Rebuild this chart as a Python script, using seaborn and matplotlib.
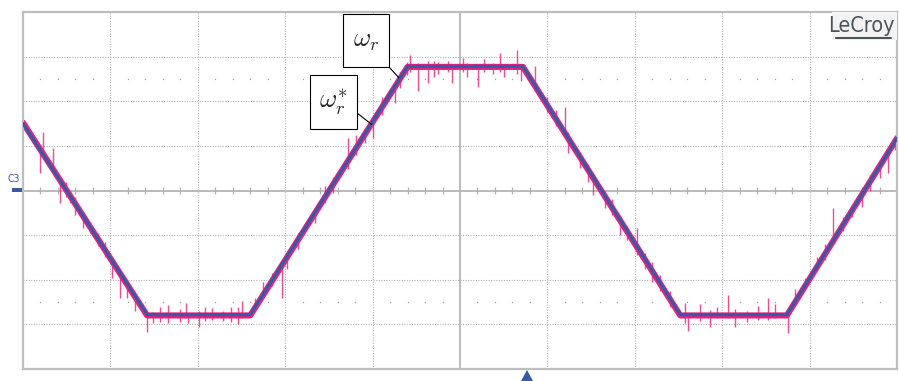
import numpy as np
import pandas as pd
import matplotlib
matplotlib.use("Agg")
import matplotlib.pyplot as plt
import seaborn as sns
from matplotlib.patches import Rectangle, Polygon
from matplotlib.lines import Line2D

# ---------------- data (oscilloscope divisions) ----------------
# reference speed  (omega_r^*), blue
ref_time = [0.0, 1.42, 2.60, 4.40, 5.72, 7.52, 8.74, 10.0]
ref_speed = [1.50, -2.78, -2.78, 2.78, 2.78, -2.78, -2.78, 1.17]

# measured speed (omega_r), pink – main trace
meas_time = [0.0, 1.42, 2.60, 4.40, 5.72, 7.52, 8.74, 10.0]
meas_speed = [1.52, -2.80, -2.80, 2.77, 2.77, -2.80, -2.80, 1.17]

spike_time = [0.19, 0.23, 0.34, 0.42, 0.49, 0.54, 0.60, 0.69, 0.77, 0.86, 0.94, 1.02, 1.11, 1.19, 1.28, 1.42,
              1.49, 1.57, 1.66, 1.80, 1.86, 1.89, 2.01, 2.08, 2.16, 2.29, 2.38, 2.46, 2.51,
              2.66, 2.75, 2.85, 2.96, 3.02, 3.15, 3.34, 3.46, 3.55, 3.72, 3.81, 3.91, 4.00, 4.11, 4.26, 4.31, 4.39,
              4.43, 4.52, 4.63, 4.70, 4.75, 4.86, 4.91, 5.03, 5.08, 5.21, 5.27, 5.38, 5.46, 5.50, 5.65, 5.70,
              5.86, 6.00, 6.10, 6.20, 6.24, 6.37, 6.46, 6.52, 6.66, 6.74, 6.83, 6.91, 7.03, 7.12, 7.20, 7.29, 7.40, 7.57,
              7.61, 7.75, 7.86, 7.94, 8.07, 8.15, 8.28, 8.41, 8.52, 8.60, 8.75,
              8.83, 8.95, 9.08, 9.18, 9.27, 9.38, 9.49, 9.60, 9.69, 9.81, 9.90, 9.98]
spike_low = [0.40, 0.80, 0.46, -0.27, -0.15, -0.29, -0.55, -0.85, -0.95, -1.25, -1.50, -1.95, -2.40, -2.40, -2.70, -3.18,
             -2.98, -2.95, -2.98, -2.95, -2.85, -2.98, -3.07, -2.92, -2.90, -2.92, -2.95, -3.00, -2.85,
             -2.65, -2.35, -2.13, -2.42, -1.75, -1.30, -0.72, -0.27, -0.05, 0.49, 0.80, 1.07, 1.17, 1.70, 1.97, 2.30, 2.58,
             2.65, 2.24, 2.42, 2.55, 2.60, 2.65, 2.42, 2.65, 2.55, 2.31, 2.65, 2.60, 2.65, 2.55, 2.60, 2.45,
             2.31, 1.75, 1.45, 1.23, 0.85, 0.50, 0.18, -0.11, -0.40, -0.55, -1.00, -1.10, -1.45, -1.75, -2.06, -2.25, -2.60, -2.96,
             -3.14, -2.92, -3.05, -2.85, -2.85, -3.07, -2.95, -2.90, -2.90, -2.85, -3.20,
             -2.47, -2.20, -1.79, -1.55, -1.15, -0.90, -0.60, -0.38, 0.00, 0.29, 0.40, 0.90]
spike_high = [0.95, 1.32, 0.96, 0.25, 0.20, 0.00, -0.15, -0.45, -0.70, -0.95, -1.15, -1.57, -1.85, -2.05, -2.30, -2.76,
              -2.73, -2.62, -2.56, -2.65, -2.51, -2.75, -2.70, -2.60, -2.63, -2.70, -2.62, -2.60, -2.47,
              -2.40, -2.06, -1.84, -1.60, -1.40, -0.95, -0.40, 0.11, 0.30, 1.17, 1.25, 1.35, 1.60, 2.10, 2.40, 2.65, 2.87,
              3.03, 2.85, 2.90, 2.90, 2.88, 2.90, 2.80, 2.96, 2.85, 2.80, 2.95, 2.85, 3.09, 2.80, 3.14, 2.80,
              2.80, 2.10, 1.80, 1.86, 1.30, 0.85, 0.60, 0.40, 0.00, -0.20, -0.55, -0.80, -0.85, -1.40, -1.61, -1.90, -2.25, -2.51,
              -2.75, -2.55, -2.68, -2.60, -2.35, -2.65, -2.70, -2.58, -2.42, -2.55, -2.70,
              -2.20, -1.95, -1.50, -1.20, -0.40, -0.60, -0.30, 0.00, 0.35, 0.67, 0.85, 1.25]

# screen grid
n_xdiv = 10
n_ydiv = 8

PINK = "#E8207C"
BLUE = "#3859A6"
GRID = "#B8B8B8"

# ---------------- figure ----------------
sns.set_style("white")
plt.rcParams["mathtext.fontset"] = "cm"
plt.rcParams["font.family"] = ["DejaVu Sans"]

W, H = 899, 381
fig = plt.figure(figsize=(W / 100, H / 100), dpi=100)
ax = fig.add_axes([23 / W, (H - 369) / H, 874 / W, 357 / H])


def fpx(x, y):
    return (x / W, 1 - y / H)


ax.set_xlim(0, n_xdiv)
ax.set_ylim(-n_ydiv / 2, n_ydiv / 2)
ax.set_xticks([])
ax.set_yticks([])
for s in ax.spines.values():
    s.set_color("#BEBEBE")
    s.set_linewidth(1.6)

# dotted grid
for xv in range(1, n_xdiv):
    if xv != n_xdiv // 2:
        ax.axvline(xv, color=GRID, lw=0.8, ls=(0, (1, 1.3)), zorder=0)
for yv in range(-n_ydiv // 2 + 1, n_ydiv // 2):
    if yv != 0:
        ax.axhline(yv, color=GRID, lw=0.8, ls=(0, (1, 1.3)), zorder=0)
# centre axes
ax.axvline(5, color="#B4B4B4", lw=1.3, zorder=0)
ax.axhline(0, color="#B4B4B4", lw=1.3, zorder=0)

# minor ticks on centre line and dot rows
minor_x = [k * 0.2 for k in range(1, 50) if k % 5 != 0]
ax.vlines(minor_x, -0.08, 0.08, color="#B0B0B0", lw=0.9, zorder=0)
ax.plot(minor_x, [2.5] * len(minor_x), ls="none", marker="s", ms=0.9, mew=0, color="#A0A0A0", zorder=0)
ax.plot(minor_x, [-2.5] * len(minor_x), ls="none", marker="s", ms=0.9, mew=0, color="#A0A0A0", zorder=0)

# traces
meas = pd.DataFrame({"t": meas_time, "v": meas_speed})
ref = pd.DataFrame({"t": ref_time, "v": ref_speed})
sns.lineplot(data=meas, x="t", y="v", ax=ax, color=PINK, lw=4.4, zorder=2)
ax.vlines(spike_time, spike_low, spike_high, color=PINK, lw=1.0, alpha=0.8, zorder=2)
sns.lineplot(data=ref, x="t", y="v", ax=ax, color=BLUE, lw=2.3, zorder=3)
ax.set_xlabel("")
ax.set_ylabel("")

# annotation boxes
for (x0, y0, x1, y1, label, tip, anchor) in [
    (343, 14, 389, 67, r"$\omega_r$", (4.30, 2.53), (389, 67)),
    (310, 75, 357, 129, r"$\omega_r^{*}$", (3.99, 1.48), (357, 113)),
]:
    fig.patches.append(Rectangle(fpx(x0, y1), (x1 - x0) / W, (y1 - y0) / H,
                                 transform=fig.transFigure, facecolor="white",
                                 edgecolor="black", lw=0.8, zorder=5))
    cx, cy = fpx((x0 + x1) / 2, (y0 + y1) / 2)
    fig.text(cx, cy, label, ha="center", va="center", fontsize=19, zorder=6)
    ax.annotate("", xy=tip, xycoords="data", xytext=fpx(*anchor), textcoords="figure fraction",
                arrowprops=dict(arrowstyle="-", lw=0.8, color="black", shrinkA=0, shrinkB=0), zorder=6)

# LeCroy logo
fig.patches.append(Rectangle(fpx(832, 40), 65 / W, 28 / H, transform=fig.transFigure,
                             facecolor="#F3F3F3", edgecolor="none", zorder=4))
fig.text(*fpx(895, 25.5), "LeCroy", ha="right", va="center", fontsize=15.5,
         family="DejaVu Sans", fontstretch="condensed", color="#4E5356", zorder=6)
fig.lines.append(Line2D([836 / W, 891 / W], [1 - 37.5 / H, 1 - 37.5 / H], transform=fig.transFigure,
                        color="#4E5356", lw=1.5, zorder=6))

# channel marker
fig.text(*fpx(14, 179), "C3", ha="center", va="center", fontsize=7.5, color=BLUE,
         family="DejaVu Sans", fontstretch="condensed")
fig.patches.append(Rectangle(fpx(12, 192), 10 / W, 4 / H, transform=fig.transFigure,
                             facecolor=BLUE, edgecolor="none"))

# trigger marker
fig.patches.append(Polygon([fpx(521, 381), fpx(533, 381), fpx(527, 370)], closed=True,
                           transform=fig.transFigure, facecolor=BLUE, edgecolor="none"))

fig.savefig("out.png", dpi=100)
